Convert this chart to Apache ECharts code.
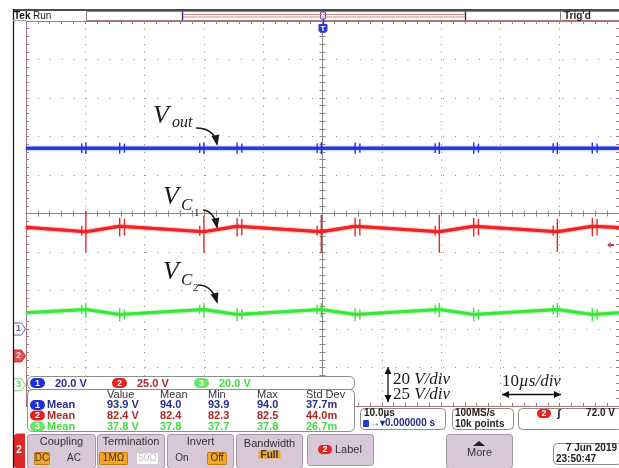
<!DOCTYPE html>
<html>
<head>
<meta charset="utf-8">
<script src="https://cdn.jsdelivr.net/npm/echarts@6/dist/echarts.min.js"></script>
<style>
html,body{margin:0;padding:0;background:#fff;}
#scope{width:619px;height:468px;}
</style>
</head>
<body>
<div id="scope"></div>
<script>
// ---- acquisition: 10 µs/div, 10 divisions, trigger at t = 0 ----
const timeMin = -50;
const timeMax = 50;

// Ch1 – Vout (20 V/div)
const ch1Time = [-50, 50];
const ch1Volt = [93.9, 93.9];
// switching spikes on Ch1: [t (µs), top (V), bottom (V)]
const ch1Spikes = [
  [-40.6, 96.5, 91.4], [-39.9, 97.0, 90.9], [-34.2, 96.9, 91.0], [-33.4, 96.3, 91.6],
  [-20.7, 96.5, 91.4], [-20.0, 97.0, 90.9], [-14.4, 96.9, 91.0], [-13.6, 96.3, 91.6],
  [-0.9, 96.5, 91.4], [-0.2, 97.0, 90.9], [5.5, 96.9, 91.0], [6.3, 96.3, 91.6],
  [19.0, 96.5, 91.4], [19.7, 97.0, 90.9], [25.5, 96.9, 91.0], [26.3, 96.3, 91.6],
  [38.9, 96.5, 91.4], [39.6, 97.0, 90.9], [45.5, 96.9, 91.0], [46.3, 96.3, 91.6]
];

// Ch2 – VC1 (25 V/div)
const ch2Time = [-50, -39.9, -34.2, -20.0, -14.4, -0.2, 5.5, 19.7, 25.5, 39.6, 45.5, 50];
const ch2Volt = [83.5, 80.6, 84.2, 80.6, 84.2, 80.6, 84.2, 80.6, 84.2, 80.6, 84.2, 83.4];
const ch2Spikes = [
  [-40.6, 84.5, 78.0], [-39.9, 94.0, 67.5], [-34.2, 89.6, 77.6], [-33.4, 89.0, 78.2],
  [-20.7, 84.5, 78.0], [-20.0, 91.0, 67.0], [-14.4, 89.6, 77.6], [-13.6, 89.0, 78.2],
  [-0.9, 84.5, 78.0], [-0.2, 91.6, 66.7], [5.5, 89.6, 77.6], [6.3, 89.0, 78.2],
  [19.0, 84.5, 78.0], [19.7, 91.6, 67.0], [25.5, 89.6, 77.6], [26.3, 89.0, 78.2],
  [38.9, 84.5, 78.0], [39.6, 89.0, 67.7], [45.5, 89.6, 77.6], [46.3, 89.0, 78.2]
];

// Ch3 – VC2 (20 V/div)
const ch3Time = [-50, -39.9, -34.2, -20.0, -14.4, -0.2, 5.5, 19.7, 25.5, 39.6, 45.5, 50];
const ch3Volt = [37.5, 39.1, 36.5, 39.1, 36.5, 39.1, 36.5, 39.1, 36.5, 39.1, 36.5, 37.5];
const ch3Spikes = [
  [-40.6, 41.6, 36.6], [-39.9, 42.5, 35.0], [-34.2, 39.9, 33.0], [-33.4, 39.2, 33.8],
  [-20.7, 41.6, 36.6], [-20.0, 42.5, 35.0], [-14.4, 39.9, 33.0], [-13.6, 39.2, 33.8],
  [-0.9, 41.6, 36.6], [-0.2, 42.5, 35.0], [5.5, 39.9, 33.0], [6.3, 39.2, 33.8],
  [19.0, 41.6, 36.6], [19.7, 42.5, 35.0], [25.5, 39.9, 33.0], [26.3, 39.2, 33.8],
  [38.9, 41.6, 36.6], [39.6, 42.5, 35.0], [45.5, 39.9, 33.0], [46.3, 39.2, 33.8]
];

// vertical settings: screen range in volts for each channel
const ch1Range = [-40, 160];
const ch2Range = [-32.5, 217.5];
const ch3Range = [-11, 189];
const triggerLevel = 72.0;
const triggerMarkTime = 48.6;
const groundMarkTime = -51.1;

// on-screen readouts
const scaleLabels = ['20.0 V', '25.0 V', '20.0 V'];
const measHeader = ['Value', 'Mean', 'Min', 'Max', 'Std Dev'];
const measRows = [
  ['93.9 V', '94.0', '93.9', '94.0', '37.7m'],
  ['82.4 V', '82.4', '82.3', '82.5', '44.0m'],
  ['37.8 V', '37.8', '37.7', '37.8', '26.7m']
];

const C1 = '#2233e0', C2 = '#ee2424', C3 = '#3be63b';
const T1 = '#2b2b8c', T2 = '#a82a2a', T3 = '#40dc40';
const borderColor = '#a87878';
const dotColor = '#8a8a8a';
const centreColor = '#888888';
const UI = 'Liberation Sans, Arial, sans-serif';
const SERIF = 'Liberation Serif, DejaVu Serif, serif';

const chart = echarts.init(document.getElementById('scope'), null, {renderer: 'canvas'});

const pair = (ts, vs) => ts.map((t, i) => [t, vs[i]]);

function timeAxis(extra) {
  return Object.assign({
    type: 'value', min: timeMin, max: timeMax, interval: 10,
    axisLabel: {show: false}, splitLine: {show: false}
  }, extra);
}
function divAxis(extra) {
  return Object.assign({
    type: 'value', min: -5, max: 5, interval: 1,
    axisLabel: {show: false}, splitLine: {show: false}
  }, extra);
}
const tickSet = (color) => ({
  axisTick: {show: true, inside: true, length: 3, lineStyle: {color: color}},
  minorTick: {show: true, splitNumber: 5, length: 3, lineStyle: {color: color}}
});

function traceSeries(data, yIdx, color) {
  return {
    type: 'line', xAxisIndex: 0, yAxisIndex: yIdx, data: data,
    showSymbol: false, symbol: 'none', animation: false, z: 5,
    lineStyle: {color: color, width: 3, shadowColor: color, shadowBlur: 2}
  };
}
function spikeSeries(data, yIdx, color) {
  return {
    type: 'custom', xAxisIndex: 0, yAxisIndex: yIdx, data: data, z: 6,
    encode: {x: 0, y: [1, 2]}, animation: false,
    renderItem: function (params, api) {
      const a = api.coord([api.value(0), api.value(1)]);
      const b = api.coord([api.value(0), api.value(2)]);
      return {type: 'line', shape: {x1: a[0], y1: a[1], x2: b[0], y2: b[1]},
        style: {stroke: color, lineWidth: 1.4}};
    }
  };
}
function groundMarker(yIdx, label, fill, stroke, textColor) {
  return {
    type: 'scatter', xAxisIndex: 0, yAxisIndex: yIdx, clip: false, z: 8,
    data: [[groundMarkTime, 0]], animation: false, silent: true,
    symbol: 'path://M0,0 L8,0 L12,6 L8,12 L0,12 Z', symbolSize: [12, 12],
    itemStyle: {color: fill, borderColor: stroke, borderWidth: 1},
    label: {show: true, formatter: label, position: 'inside', offset: [-1, 0],
      color: textColor, fontSize: 9, fontWeight: 'bold', fontFamily: UI}
  };
}

const option = {
  backgroundColor: '#ffffff',
  animation: false,
  grid: {left: 26, top: 21, width: 596, height: 385, containLabel: false},
  xAxis: [
    timeAxis(Object.assign({position: 'top',
      axisLine: {show: true, onZero: false, lineStyle: {color: borderColor}},
      splitLine: {show: true, lineStyle: {color: dotColor, width: 1, type: [1, 6.7]}}}, tickSet(borderColor))),
    timeAxis(Object.assign({position: 'bottom',
      axisLine: {show: true, onZero: false, lineStyle: {color: borderColor}}}, tickSet(borderColor))),
    timeAxis(Object.assign({position: 'bottom',
      axisLine: {show: true, onZero: true, onZeroAxisIndex: 0, lineStyle: {color: centreColor}}}, tickSet(centreColor))),
    timeAxis(Object.assign({position: 'top',
      axisLine: {show: true, onZero: true, onZeroAxisIndex: 0, lineStyle: {color: centreColor}}}, tickSet(centreColor)))
  ],
  yAxis: [
    divAxis(Object.assign({position: 'left',
      axisLine: {show: true, onZero: false, lineStyle: {color: borderColor}},
      splitLine: {show: true, lineStyle: {color: dotColor, width: 1, type: [1, 10.92]}}}, tickSet(borderColor))),
    divAxis(Object.assign({position: 'right',
      axisLine: {show: true, onZero: false, lineStyle: {color: borderColor}}}, tickSet(borderColor))),
    divAxis(Object.assign({position: 'left',
      axisLine: {show: true, onZero: true, onZeroAxisIndex: 0, lineStyle: {color: centreColor}}}, tickSet(centreColor))),
    divAxis(Object.assign({position: 'right',
      axisLine: {show: true, onZero: true, onZeroAxisIndex: 0, lineStyle: {color: centreColor}}}, tickSet(centreColor))),
    {type: 'value', min: ch1Range[0], max: ch1Range[1], show: false},
    {type: 'value', min: ch2Range[0], max: ch2Range[1], show: false},
    {type: 'value', min: ch3Range[0], max: ch3Range[1], show: false}
  ],
  series: [
    traceSeries(pair(ch1Time, ch1Volt), 4, C1),
    spikeSeries(ch1Spikes, 4, C1),
    traceSeries(pair(ch2Time, ch2Volt), 5, C2),
    spikeSeries(ch2Spikes, 5, C2),
    traceSeries(pair(ch3Time, ch3Volt), 6, C3),
    spikeSeries(ch3Spikes, 6, C3),
    groundMarker(4, '1', '#ffffff', '#3a3a9a', '#3a3a9a'),
    groundMarker(5, '2', '#e02020', '#c01818', '#ffffff'),
    groundMarker(6, '3', '#ffffff', '#44cc44', '#44cc44'),
    {
      type: 'scatter', xAxisIndex: 0, yAxisIndex: 5, clip: false, z: 8, silent: true,
      data: [[triggerMarkTime, triggerLevel]],
      symbol: 'path://M0,3 L4,0 L4,2 L8,2 L8,4 L4,4 L4,6 Z', symbolSize: [7, 6],
      itemStyle: {color: '#a01818'}
    }
  ]
};
chart.setOption(option);

// ---------- screen furniture ----------
const g = [];
const Z = 20;
function rect(x, y, w, h, fill, stroke, r, lw) {
  g.push({type: 'rect', z: Z, shape: {x: x, y: y, width: w, height: h, r: r || 0},
    style: {fill: fill, stroke: stroke || null, lineWidth: lw || 1}});
}
function line(x1, y1, x2, y2, color, lw) {
  g.push({type: 'line', z: Z + 1, shape: {x1: x1, y1: y1, x2: x2, y2: y2},
    style: {stroke: color, lineWidth: lw || 1}});
}
function text(x, y, s, color, size, opts) {
  opts = opts || {};
  const font = (opts.style || '') + ' ' + (opts.weight || 'normal') + ' ' + size + 'px ' + (opts.family || UI);
  g.push({type: 'text', z: Z + 2, x: x, y: y,
    style: {text: s, fill: color, font: font,
      textAlign: opts.align || 'left', align: opts.align || 'left',
      textVerticalAlign: 'middle', verticalAlign: 'middle', rich: opts.rich}});
}
function oval(x, y, w, h, fill, label) {
  rect(x, y, w, h, fill, null, h / 2);
  text(x + w / 2, y + h / 2 + 0.5, label, '#ffffff', 9, {weight: 'bold', align: 'center'});
}
function arrow(x1, y1, cx, cy, x2, y2) {
  g.push({type: 'bezierCurve', z: Z + 1,
    shape: {x1: x1, y1: y1, cpx1: cx, cpy1: cy, x2: x2, y2: y2},
    style: {stroke: '#1a1a1a', lineWidth: 1.6, fill: null}});
  let dx = x2 - cx, dy = y2 - cy;
  const L = Math.hypot(dx, dy); dx /= L; dy /= L;
  const bx = x2 - dx * 9, by = y2 - dy * 9;
  g.push({type: 'polygon', z: Z + 1,
    shape: {points: [[x2 + dx * 2, y2 + dy * 2], [bx - dy * 4, by + dx * 4], [bx + dy * 4, by - dx * 4]]},
    style: {fill: '#1a1a1a'}});
}
function doubleArrow(x1, y1, x2, y2) {
  line(x1, y1, x2, y2, '#111', 1.3);
  let dx = x2 - x1, dy = y2 - y1;
  const L = Math.hypot(dx, dy); dx /= L; dy /= L;
  const head = (tx, ty, sx, sy) => {
    const bx = tx - sx * 7, by = ty - sy * 7;
    g.push({type: 'polygon', z: Z + 1,
      shape: {points: [[tx, ty], [bx - sy * 3.5, by + sx * 3.5], [bx + sy * 3.5, by - sx * 3.5]]},
      style: {fill: '#111'}});
  };
  head(x2, y2, dx, dy);
  head(x1, y1, -dx, -dy);
}

// frame and header
line(13.5, 9, 13.5, 468, '#111', 1.2);
line(13, 10, 619, 10, '#111', 1.6);
line(13, 20.5, 26, 20.5, '#9a9a9a', 1);
text(14, 16, 'Tek', '#111', 10, {weight: 'bold'});
text(33, 16, 'Run', '#222', 10);
rect(86.5, 11.5, 474, 9, '#ffffff', borderColor, 0, 1);
line(182, 14.5, 465, 14.5, '#d08a8a', 1);
line(182, 17, 465, 17, '#d08a8a', 1);
line(182.5, 11.5, 182.5, 20.5, '#20207a', 1.3);
line(465.5, 11.5, 465.5, 20.5, '#20207a', 1.3);
rect(560.5, 11.5, 62, 9, '#ffffff', borderColor, 0, 1);
text(564, 16, "Trig'd", '#222', 10, {weight: 'bold'});

// V annotations
text(153, 116, 'V', '#1a1a1a', 26, {style: 'italic', family: SERIF});
text(172, 123, 'out', '#1a1a1a', 16, {style: 'italic', family: SERIF});
arrow(196, 128, 214, 128, 217, 144);
text(163, 197, 'V', '#1a1a1a', 26, {style: 'italic', family: SERIF});
text(181, 206, 'C', '#1a1a1a', 17, {style: 'italic', family: SERIF});
text(194, 213, '1', '#1a1a1a', 11, {family: SERIF});
arrow(203, 210, 214, 211, 217, 227);
text(163, 272, 'V', '#1a1a1a', 26, {style: 'italic', family: SERIF});
text(181, 281, 'C', '#1a1a1a', 17, {style: 'italic', family: SERIF});
text(193, 288, '2', '#1a1a1a', 11, {family: SERIF});
arrow(198, 285, 212, 285, 217, 302);

// scale notes
doubleArrow(388, 367, 388, 402);
text(393, 380, '{n|20 }{i|V/div}', '#1a1a1a', 17, {family: SERIF, rich: {
  n: {font: '17px ' + SERIF, fill: '#1a1a1a'}, i: {font: 'italic 17px ' + SERIF, fill: '#1a1a1a'}}});
text(393, 395, '{n|25 }{i|V/div}', '#1a1a1a', 17, {family: SERIF, rich: {
  n: {font: '17px ' + SERIF, fill: '#1a1a1a'}, i: {font: 'italic 17px ' + SERIF, fill: '#1a1a1a'}}});
text(502, 382, '{n|10}{i|µs/div}', '#1a1a1a', 17, {family: SERIF, rich: {
  n: {font: '17px ' + SERIF, fill: '#1a1a1a'}, i: {font: 'italic 17px ' + SERIF, fill: '#1a1a1a'}}});
doubleArrow(502, 394.5, 561, 394.5);

// channel scale bar
rect(27.5, 376.5, 327, 13, '#ffffff', '#8c8c8c', 5);
oval(30, 378, 15, 10, '#1c2fd8', '1');
text(55, 383.5, scaleLabels[0], T1, 11, {weight: 'bold'});
oval(112, 378, 15, 10, '#e52020', '2');
text(137, 383.5, scaleLabels[1], T2, 11, {weight: 'bold'});
oval(194, 378, 15, 10, '#66e866', '3');
text(219, 383.5, scaleLabels[2], T3, 11, {weight: 'bold'});

// measurement table
rect(27.5, 389.5, 327, 42, '#ffffff', '#8c8c8c', 5);
const colX = [107, 160, 208, 257, 306];
measHeader.forEach((h, i) => text(colX[i], 394.5, h, '#333', 11));
const rowY = [405, 415.5, 426.5];
const rowCol = [T1, T2, T3];
const ovalCol = ['#1c2fd8', '#e52020', '#66e866'];
measRows.forEach((row, r) => {
  oval(30, rowY[r] - 5, 15, 10, ovalCol[r], String(r + 1));
  text(47, rowY[r], 'Mean', rowCol[r], 11, {weight: 'bold'});
  row.forEach((v, i) => text(colX[i], rowY[r], v, rowCol[r], 11, {weight: 'bold'}));
});

// timebase / acquisition / trigger readouts
rect(360.5, 408.5, 85, 21, '#ffffff', '#8c8c8c', 4);
text(364, 413.5, '10.0µs', '#222', 10, {weight: 'bold'});
rect(363, 420, 6, 7, '#2a3ad0', null, 1);
text(370, 423.5, '→▾0.000000 s', T1, 10, {weight: 'bold'});
rect(452.5, 408.5, 61, 21, '#ffffff', '#8c8c8c', 4);
text(455, 413.5, '100MS/s', '#222', 10, {weight: 'bold'});
text(455, 424, '10k points', '#222', 10, {weight: 'bold'});
rect(518.5, 408.5, 104, 21, '#ffffff', '#8c8c8c', 4);
oval(537, 409, 14, 9, '#e52020', '2');
text(557, 413.5, 'ʃ', '#222', 11, {weight: 'bold'});
text(615, 413.5, '72.0 V', '#222', 10, {weight: 'bold', align: 'right'});

// bottom menu
rect(13, 433.5, 12, 35, '#e02828', null, [5, 0, 0, 5]);
text(19, 450, '2', '#ffffff', 10, {weight: 'bold', align: 'center'});
const btnFill = '#d6c8d6', btnStroke = '#a596a5';
const orange = '#f6a623', orangeStroke = '#c27b12';
rect(27.5, 434.5, 68, 34, btnFill, btnStroke, 3);
text(61.5, 441.5, 'Coupling', '#333', 11, {align: 'center'});
rect(34.5, 452.5, 15, 12, orange, orangeStroke, 1);
text(42, 458.5, 'DC', '#333', 10, {align: 'center'});
text(74, 458.5, 'AC', '#333', 10, {align: 'center'});
rect(97.5, 434.5, 67, 34, btnFill, btnStroke, 3);
text(131, 441.5, 'Termination', '#333', 11, {align: 'center'});
rect(99.5, 452.5, 28, 12, orange, orangeStroke, 1);
text(113.5, 458.5, '1MΩ', '#333', 10, {align: 'center'});
rect(136.5, 452.5, 22, 12, '#ffffff', '#cccccc', 1);
text(147.5, 458.5, '50Ω', '#c0c0c0', 10, {align: 'center'});
rect(167.5, 434.5, 66, 34, btnFill, btnStroke, 3);
text(200.5, 441.5, 'Invert', '#333', 11, {align: 'center'});
text(182, 458.5, 'On', '#333', 10, {align: 'center'});
rect(207.5, 452.5, 19, 12, orange, orangeStroke, 1);
text(217, 458.5, 'Off', '#333', 10, {align: 'center'});
rect(236.5, 434.5, 66, 34, btnFill, btnStroke, 3);
text(269.5, 444, 'Bandwidth', '#333', 11, {align: 'center'});
rect(258.5, 450.5, 22, 8, orange, null, 0);
text(269.5, 455, 'Full', '#333', 10, {align: 'center', weight: 'bold'});
rect(307.5, 434.5, 66, 31, btnFill, btnStroke, 3);
oval(318, 445, 14, 9, '#e52020', '2');
text(335, 450, 'Label', '#333', 11);
rect(446.5, 434.5, 66, 34, btnFill, btnStroke, 3);
g.push({type: 'polygon', z: Z + 1, shape: {points: [[473, 446], [485, 446], [479, 441]]}, style: {fill: '#222'}});
text(479.5, 453, 'More', '#333', 11, {align: 'center'});
rect(553.5, 443.5, 68, 21, '#ffffff', '#8c8c8c', 4);
text(617, 448.5, '7 Jun 2019', '#222', 10, {align: 'right', weight: 'bold'});
text(556, 459.5, '23:50:47', '#222', 10, {weight: 'bold'});

// trigger position markers at t = 0
const x0 = Math.round(chart.convertToPixel({xAxisIndex: 0}, 0));
rect(x0 - 2.5, 12, 5, 7, '#ffffff', '#2a3ad0', 1, 1);
line(x0 + 0.5, 19, x0 + 0.5, 24, '#2a3ad0', 1.5);
rect(x0 - 4.5, 24, 9, 9, '#2a3ad0', null, [1, 1, 4, 4]);
text(x0, 28.5, 'T', '#ffffff', 8, {weight: 'bold', align: 'center'});

chart.setOption({graphic: {elements: g}});
</script>
</body>
</html>
